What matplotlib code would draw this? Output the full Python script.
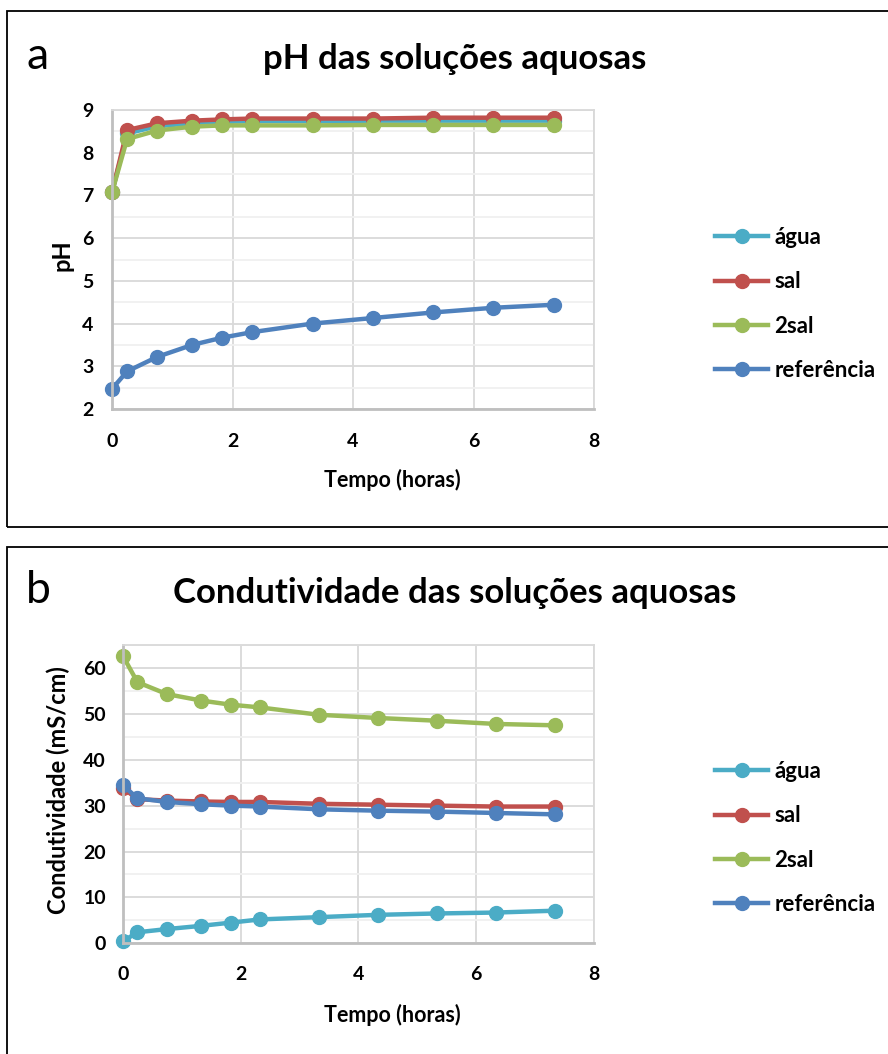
import matplotlib
matplotlib.use("Agg")
import matplotlib.pyplot as plt
from matplotlib.patches import Rectangle
from matplotlib.ticker import MultipleLocator

plt.rcParams['font.family'] = ['Lato', 'DejaVu Sans']

# dados
tempo = [0, 0.25, 0.75, 1.33, 1.83, 2.33, 3.33, 4.33, 5.33, 6.33, 7.33]
series = ['água', 'sal', '2sal', 'referência']
colors = ['#4BACC6', '#C0504D', '#9BBB59', '#4F81BD']

ph_agua = [7.07, 8.45, 8.62, 8.69, 8.72, 8.74, 8.74, 8.75, 8.75, 8.75, 8.75]
ph_sal = [7.07, 8.53, 8.69, 8.75, 8.78, 8.80, 8.80, 8.80, 8.82, 8.82, 8.82]
ph_2sal = [7.07, 8.32, 8.52, 8.61, 8.64, 8.64, 8.64, 8.65, 8.65, 8.65, 8.65]
ph_ref = [2.47, 2.88, 3.22, 3.50, 3.67, 3.80, 4.00, 4.13, 4.26, 4.37, 4.44]

cond_agua = [0.4, 2.4, 3.1, 3.8, 4.5, 5.2, 5.7, 6.2, 6.5, 6.7, 7.1]
cond_sal = [33.9, 31.4, 31.1, 30.9, 30.8, 30.8, 30.4, 30.2, 30.0, 29.8, 29.8]
cond_2sal = [62.7, 56.9, 54.3, 52.9, 52.0, 51.4, 49.8, 49.1, 48.5, 47.8, 47.5]
cond_ref = [34.5, 31.6, 30.8, 30.3, 30.0, 29.8, 29.2, 28.9, 28.7, 28.4, 28.1]

W, H = 888, 1054
fig = plt.figure(figsize=(W / 100, H / 100), dpi=100)


def px(x0, y0, x1, y1):
    # pixel box (top-left origin) -> figure fraction rect
    return [x0 / W, 1 - y1 / H, (x1 - x0) / W, (y1 - y0) / H]


def panel(box, axbox, data, ylim, ymajor, letter, title, ylabel,
          ylab_xy, xlab_y, ypad, xpad, leg_y, base_y):
    fig.patches.append(Rectangle((box[0] / W, 1 - box[3] / H),
                                 (box[2] - box[0]) / W, (box[3] - box[1]) / H,
                                 transform=fig.transFigure, fill=False,
                                 edgecolor='black', linewidth=1.3))
    ax = fig.add_axes(px(*axbox))
    for vals, lab, c in zip(data, series, colors):
        ax.plot(tempo, vals, color=c, linewidth=3.2, marker='o', markersize=10,
                label=lab, clip_on=False)
    ax.set_xlim(0, 8)
    ax.set_ylim(*ylim)
    ax.xaxis.set_major_locator(MultipleLocator(2))
    ax.yaxis.set_major_locator(MultipleLocator(ymajor))
    ax.yaxis.set_minor_locator(MultipleLocator(ymajor / 2))
    ax.grid(which='major', color='#d9d9d9', linewidth=1.3)
    ax.grid(which='minor', axis='y', color='#f0f0f0', linewidth=1.3)
    ax.set_axisbelow(True)
    for s in ['top', 'right']:
        ax.spines[s].set_color('#d9d9d9')
        ax.spines[s].set_linewidth(1.3)
    for s in ['left', 'bottom']:
        ax.spines[s].set_color('#bfbfbf')
        ax.spines[s].set_linewidth(2)
    ax.tick_params(which='both', length=0)
    ax.tick_params(axis='y', pad=ypad, labelsize=14)
    ax.tick_params(axis='x', pad=xpad, labelsize=14)
    for t in ax.get_xticklabels() + ax.get_yticklabels():
        t.set_fontweight('bold')
    fig.text(38 / W, 1 - base_y / H, letter, fontsize=32,
             ha='center', va='baseline')
    fig.text(455 / W, 1 - base_y / H, title, fontsize=25,
             fontweight='bold', ha='center', va='baseline')
    fig.text(ylab_xy[0] / W, 1 - ylab_xy[1] / H, ylabel, fontsize=17,
             fontweight='bold', rotation=90, ha='center', va='center')
    fig.text(392 / W, 1 - xlab_y / H, 'Tempo (horas)', fontsize=15.5,
             fontweight='bold', ha='center', va='center')
    ax.legend(loc='center left', bbox_to_anchor=(715 / W, 1 - leg_y / H),
              bbox_transform=fig.transFigure, frameon=False,
              prop={'weight': 'bold', 'size': 16}, handlelength=2.4,
              handletextpad=0.27, labelspacing=1.05, borderpad=0,
              borderaxespad=0)
    return ax


panel((7, 11, 900, 527), (112, 110, 594, 409),
      [ph_agua, ph_sal, ph_2sal, ph_ref], (2, 9), 1,
      'a', 'pH das soluções aquosas', 'pH', (62, 255), 480, 13.5, 17, 304, 69)

panel((7, 547, 900, 1070), (122.7, 645, 594, 943.3),
      [cond_agua, cond_sal, cond_2sal, cond_ref], (0, 65), 10,
      'b', 'Condutividade das soluções aquosas', 'Condutividade (mS/cm)',
      (58, 790), 1015, 12, 16, 838, 603)

fig.savefig('out.png', dpi=100)
